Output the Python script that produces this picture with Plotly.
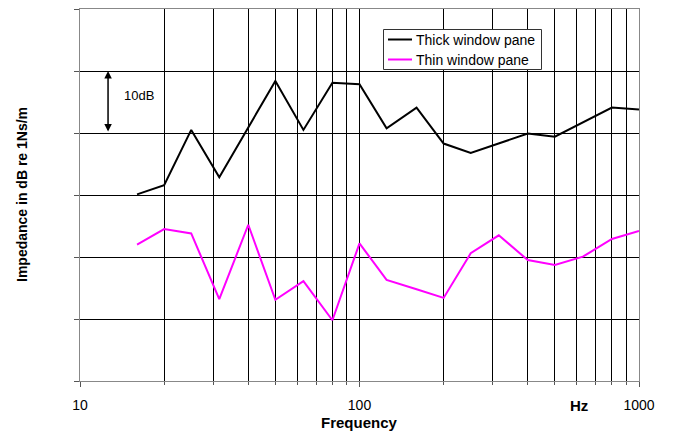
import plotly.graph_objects as go
import math

freqs = [16, 20, 25, 31.5, 40, 50, 63, 80, 100, 125, 160, 200, 250, 315, 400, 500, 630, 800, 1000]
thick = [30.1, 31.6, 40.5, 32.85, 40.9, 48.4, 40.5, 48.1, 47.85, 40.75, 44.1, 38.3, 36.8, 38.35, 39.9, 39.4, 41.7, 44.1, 43.8]
thin = [22.0, 24.5, 23.8, 13.2, 25.2, 13.1, 16.1, 9.8, 22.2, 16.3, 14.8, 13.4, 20.6, 23.5, 19.5, 18.7, 20.05, 22.9, 24.2]
series_names = ["Thick window pane", "Thin window pane"]
series_colors = ["black", "#FF00FF"]
major_ticks = [10, 100, 1000]
minor_ticks = [20, 30, 40, 50, 60, 70, 80, 90, 200, 300, 400, 500, 600, 700, 800, 900]

FONT = "Liberation Sans, Arial, sans-serif"
OFF = 8  # page body margin
W, H = 674 - OFF, 437 - OFF
L = 80 - OFF
T = 9 - OFF
R = W - (639 - OFF)
B = H - (381 - OFF)
PW, PH = W - L - R, H - T - B


def px(xp):
    return (xp - OFF - L) / PW


def py(yp):
    return (H - B - (yp - OFF)) / PH


fig = go.Figure()
for vals, name, col in zip([thick, thin], series_names, series_colors):
    fig.add_trace(go.Scatter(x=freqs, y=vals, mode="lines", name=name,
                             line=dict(color=col, width=2), showlegend=False))

fig.update_layout(
    width=W, height=H,
    margin=dict(l=L, r=R, t=T, b=B, autoexpand=False),
    paper_bgcolor="white", plot_bgcolor="white",
    font=dict(family=FONT, size=14, color="black"),
    showlegend=False,
    xaxis=dict(type="log", range=[1, 3], tickvals=major_ticks,
               ticktext=[str(v) for v in major_ticks],
               ticks="outside", ticklen=5, tickcolor="#555",
               ticklabelstandoff=6,
               showgrid=True, gridcolor="black", gridwidth=1,
               minor=dict(tickvals=minor_ticks, ticks="outside", ticklen=3,
                          tickcolor="#555", showgrid=True, gridcolor="black", gridwidth=1),
               showline=True, linecolor="#888", linewidth=1, mirror=True,
               zeroline=False, automargin=False,
               tickfont=dict(size=14)),
    yaxis=dict(range=[0, 60], dtick=10, showticklabels=False,
               ticks="outside", ticklen=5, tickcolor="#555",
               showgrid=True, gridcolor="black", gridwidth=1,
               showline=True, linecolor="#888", linewidth=1, mirror=True,
               zeroline=False, automargin=False),
)

# legend box (drawn manually to match the original compact layout)
fig.add_shape(type="rect", xref="paper", yref="paper",
              x0=px(383.5), x1=px(541.5), y0=py(69.5), y1=py(29.5),
              line=dict(color="#333", width=1), fillcolor="white", layer="above")
for i, (name, col) in enumerate(zip(series_names, series_colors)):
    yy = 39.5 + 20 * i
    fig.add_shape(type="line", xref="paper", yref="paper",
                  x0=px(388), x1=px(412), y0=py(yy), y1=py(yy),
                  line=dict(color=col, width=2), layer="above")
    fig.add_annotation(x=px(414), y=py(yy), xref="paper", yref="paper", text=name,
                       showarrow=False, xanchor="left", yanchor="middle",
                       font=dict(size=14, family=FONT))

ax_x = math.log10(12.6)
fig.add_annotation(x=ax_x, y=50, ax=ax_x, ay=40, xref="x", yref="y", axref="x", ayref="y",
                   text="", showarrow=True, arrowhead=2, arrowside="end+start",
                   arrowsize=1, arrowwidth=1.5, arrowcolor="black")
fig.add_annotation(x=1.211, y=46, xref="x", yref="y", text="10dB", showarrow=False,
                   font=dict(size=13, family=FONT))
fig.add_annotation(x=px(590), y=py(405), xref="paper", yref="paper",
                   text="<b>Hz</b>", showarrow=False, font=dict(size=15, family=FONT),
                   yanchor="middle")
fig.add_annotation(x=0.5, y=py(423), xref="paper", yref="paper",
                   text="<b>Frequency</b>", showarrow=False, font=dict(size=15, family=FONT),
                   yanchor="middle")
fig.add_annotation(x=px(22), y=0.5, xref="paper", yref="paper",
                   text="<b>Impedance in dB re 1Ns/m</b>", showarrow=False, textangle=-90,
                   font=dict(size=14, family=FONT), xanchor="center", yanchor="middle")

fig.write_html("out.html")
